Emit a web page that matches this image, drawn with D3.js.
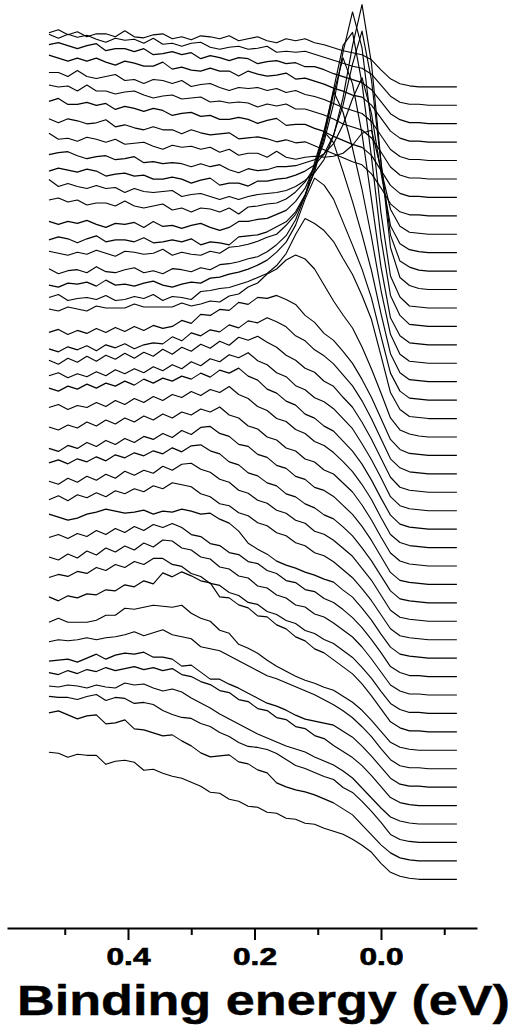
<!DOCTYPE html>
<html>
<head>
<meta charset="utf-8">
<script src="https://cdn.jsdelivr.net/npm/d3@7"></script>
<style>
  body { margin: 0; background: #fff; }
  svg { display: block; }
</style>
</head>
<body>
<svg id="chart" width="518" height="1035"></svg>
<script>
// binding energy grid (eV), shared by every spectrum
const energies = [0.525, 0.51, 0.495, 0.48, 0.465, 0.45, 0.435, 0.42, 0.405, 0.39, 0.375, 0.36, 0.345, 0.33, 0.315,
  0.3, 0.285, 0.27, 0.255, 0.24, 0.225, 0.21, 0.195, 0.18, 0.165, 0.15, 0.135, 0.12, 0.105, 0.09, 0.075, 0.06,
  0.045, 0.03, 0.015, 0, -0.015, -0.03, -0.045, -0.06, -0.075, -0.09, -0.105, -0.12]

// intensity of each EDC above its own baseline (arb. units), top curve first
const edc00 = [54,57,52,55,50,53,53,50,56,50,49,52,53,48,50,47,51,50,48,51,46,48,50,46,44,48,46,48,44,42,39,36,34,32,27,17,8,3,1,0,0,0,0,0]
const edc01 = [71,67,71,68,70,66,63,67,65,66,62,67,61,62,59,62,63,58,56,58,59,56,57,59,53,54,53,54,51,48,45,42,39,37,31,20,9,3,1,1,0,0,0,0]
const edc02 = [79,81,78,75,78,80,73,75,75,72,75,69,70,72,69,71,65,68,66,63,66,65,60,62,63,60,61,57,57,54,50,47,44,41,34,22,10,4,1,1,0,0,0,0]
const edc03 = [87,84,81,84,81,84,80,77,81,79,76,76,80,73,75,72,71,74,71,71,66,71,68,66,67,69,63,64,61,58,54,51,47,45,37,24,11,4,1,1,0,0,0,0]
const edc04 = [88,88,84,90,84,82,84,86,80,81,77,81,80,77,80,74,76,77,73,70,73,72,73,70,72,68,70,66,64,61,57,53,50,47,39,25,11,4,1,1,0,0,0,0]
const edc05 = [94,92,93,88,94,88,88,85,87,88,84,81,83,84,80,81,82,77,78,76,77,76,72,75,73,75,70,70,67,64,60,55,52,49,41,27,12,4,1,1,0,0,0,0]
const edc06 = [96,99,93,93,95,92,94,88,91,89,86,89,87,82,84,85,81,82,78,78,80,78,74,77,79,72,73,73,69,66,61,57,53,50,42,27,12,4,1,1,0,0,0,0]
const edc07 = [97,93,97,95,92,93,96,89,91,88,86,89,86,86,82,86,83,81,82,83,77,78,79,77,74,76,73,74,70,66,62,58,54,51,42,28,12,4,1,1,0,0,0,0]
const edc08 = [101,95,96,93,97,95,92,95,90,91,92,88,85,89,87,88,85,87,82,85,79,81,81,77,83,77,75,77,78,77,78,81,89,101,104,65,25,8,2,1,0,0,0,0]
const edc09 = [98,100,101,97,94,96,97,93,94,96,90,91,89,90,89,86,89,86,88,83,80,84,82,83,86,86,87,90,93,99,109,128,154,175,139,80,27,9,3,1,0,0,0,0]
const edc10 = [100,103,101,99,102,100,95,97,98,95,96,92,92,94,92,88,91,93,86,88,88,85,90,90,92,93,96,100,106,117,136,166,207,240,191,108,36,10,4,1,0,0,0,0]
const edc11 = [110,103,106,103,101,104,101,102,97,101,98,97,98,99,93,95,96,93,90,93,90,93,95,96,97,99,103,109,117,130,154,192,244,285,226,128,42,12,4,1,0,0,0,0]
const edc12 = [108,110,106,108,103,105,105,102,107,102,100,102,104,98,100,96,100,99,96,100,94,101,102,104,105,109,116,126,141,166,204,256,296,260,182,95,32,11,2,1,0,0,0,0]
const edc13 = [105,102,105,103,106,102,99,103,102,104,99,105,100,101,98,101,103,99,96,99,105,105,107,108,112,116,125,138,160,192,237,281,294,243,169,88,31,11,2,1,0,0,0,0]
const edc14 = [105,108,106,102,106,109,103,105,105,103,107,102,103,105,103,106,100,103,102,100,108,109,110,113,118,123,133,150,173,207,251,287,261,211,145,78,27,9,2,1,0,0,0,0]
const edc15 = [112,110,108,111,109,113,110,107,112,111,109,110,114,108,111,109,108,112,110,116,117,119,122,126,129,138,149,167,194,232,272,251,215,174,126,73,29,9,2,1,0,0,0,0]
const edc16 = [113,108,111,112,109,115,110,109,112,114,109,111,108,113,112,110,114,112,117,118,120,123,125,130,137,146,162,186,219,250,239,210,180,147,111,68,28,9,2,1,0,0,0,0]
const edc17 = [115,113,117,116,118,114,120,115,116,114,117,119,115,113,116,118,117,122,123,126,128,131,135,140,148,158,175,201,222,215,201,178,155,131,102,64,27,9,2,1,0,0,0,0]
const edc18 = [121,124,118,120,121,119,123,118,119,122,120,124,118,122,121,119,127,128,130,131,134,137,141,145,153,165,184,200,195,188,177,160,144,123,99,63,26,9,2,1,0,0,0,0]
const edc19 = [128,126,130,128,126,131,129,129,129,133,130,130,130,130,134,131,133,136,135,141,143,150,154,163,168,177,182,178,168,152,136,122,109,90,68,44,19,7,3,1,0,0,0,0]
const edc20 = [123,126,121,125,122,127,123,128,124,129,125,130,127,129,135,132,141,140,146,145,153,151,158,157,160,156,151,140,133,122,115,104,92,76,58,37,16,6,2,1,0,0,0,0]
const edc21 = [125,122,127,124,128,123,129,126,130,125,129,131,130,137,133,141,138,144,142,149,146,153,151,156,152,147,138,133,124,118,110,99,88,73,55,35,15,6,2,1,0,0,0,0]
const edc22 = [132,128,134,130,136,131,137,133,139,134,140,136,143,138,145,141,148,144,151,147,155,152,156,150,145,137,132,124,120,111,106,95,85,70,53,34,15,5,2,1,0,0,0,0]
const edc23 = [135,138,133,137,134,139,135,141,137,142,138,144,140,146,142,149,145,152,149,156,153,158,150,146,138,134,125,121,113,109,102,92,82,67,51,33,14,5,2,1,0,0,0,0]
const edc24 = [141,138,143,140,145,141,146,143,148,144,150,146,151,148,153,150,156,152,159,156,161,153,149,140,136,128,124,115,111,103,98,88,78,65,49,31,14,5,2,1,0,0,0,0]
const edc25 = [140,143,138,142,140,145,141,147,143,149,145,151,147,153,150,156,152,158,155,161,153,149,141,137,129,126,118,114,106,102,95,86,76,63,48,30,13,5,2,1,0,0,0,0]
const edc26 = [139,136,141,138,144,140,146,142,148,144,150,146,152,148,154,151,157,154,159,151,148,140,137,129,126,118,115,107,104,96,92,83,74,61,46,29,13,5,2,1,0,0,0,0]
const edc27 = [136,133,139,136,142,138,144,140,146,142,148,145,151,147,154,150,157,158,151,148,140,138,130,127,119,116,108,105,97,94,88,79,70,58,44,28,12,4,2,1,0,0,0,0]
const edc28 = [140,143,139,144,141,146,142,148,145,150,147,152,149,155,151,157,158,152,149,141,138,130,127,120,117,109,106,99,95,88,84,76,67,55,42,27,12,4,2,1,0,0,0,0]
const edc29 = [140,137,143,139,145,141,147,143,150,146,151,148,155,151,157,158,152,149,142,139,131,128,121,118,111,108,101,98,90,87,81,73,65,53,41,26,11,4,2,1,0,0,0,0]
const edc30 = [140,144,139,145,142,147,143,149,146,151,148,154,151,157,155,153,146,143,136,134,127,124,117,114,107,104,97,94,87,84,78,70,62,51,39,25,11,4,2,1,0,0,0,0]
const edc31 = [144,141,138,140,144,146,149,147,145,146,148,144,147,146,149,147,144,145,139,135,127,115,109,104,97,93,90,86,83,79,76,68,61,50,38,24,11,4,2,1,0,0,0,0]
const edc32 = [139,142,138,143,140,146,142,148,144,150,146,152,149,153,149,142,140,133,131,124,122,115,113,106,103,96,94,87,85,78,74,67,59,49,37,24,10,4,1,1,0,0,0,0]
const edc33 = [138,135,141,137,144,140,147,143,149,145,152,148,155,154,147,145,138,136,128,126,119,117,109,107,100,97,90,88,81,78,72,65,58,48,36,23,10,4,1,1,0,0,0,0]
const edc34 = [136,139,137,142,140,146,143,149,146,152,149,155,155,149,147,140,137,130,128,121,118,111,109,102,99,93,90,83,80,74,70,63,56,46,35,22,10,4,1,1,0,0,0,0]
const edc35 = [135,131,136,134,138,137,142,141,147,145,151,148,159,155,160,156,151,149,135,134,127,124,116,115,107,103,95,91,83,79,72,65,58,48,36,23,10,4,1,1,0,0,0,0]
const edc36 = [128,132,128,128,128,130,135,135,142,141,143,145,144,143,145,137,132,129,120,117,106,102,97,90,84,79,74,70,67,63,60,54,48,40,30,19,8,3,1,0,0,0,0,0]
const edc37 = [127,129,128,129,131,129,131,132,134,137,133,136,139,134,132,130,122,120,118,113,108,103,98,93,90,86,82,78,74,69,64,58,51,42,32,20,9,3,1,1,0,0,0,0]
const edc38 = [126,127,128,125,129,133,128,132,134,133,135,130,130,128,121,122,115,108,108,103,99,94,89,84,81,77,72,68,66,64,62,56,50,41,31,20,9,3,1,1,0,0,0,0]
const edc39 = [133,131,135,132,136,134,138,135,137,139,136,138,135,137,131,129,124,121,115,113,106,104,97,95,88,86,79,77,70,67,60,54,48,40,30,19,8,3,1,0,0,0,0,0]
const edc40 = [138,137,139,138,136,139,137,136,141,139,140,136,133,135,132,126,121,116,110,105,100,95,90,86,82,78,75,72,67,63,59,53,46,36,26,16,7,3,1,0,0,0,0,0]
const edc41 = [146,145,145,143,146,148,142,145,144,139,140,138,132,128,125,124,119,116,110,106,100,96,95,93,89,83,77,74,70,66,63,55,50,41,31,20,8,3,1,0,0,0,0,0]
const edc42 = [148,150,146,142,145,146,137,138,141,132,131,128,125,126,120,115,108,104,105,106,99,97,91,88,78,74,71,69,66,62,58,52,46,36,26,16,8,3,1,0,0,0,0,0]
const edc43 = [127,126,122,125,124,124,115,118,119,117,109,110,106,103,101,97,93,87,86,80,78,73,72,67,66,61,60,56,55,51,48,45,40,34,27,16,7,3,1,0,0,0,0,0]

const edcs = [edc00, edc01, edc02, edc03, edc04, edc05, edc06, edc07, edc08, edc09, edc10, edc11, edc12, edc13, edc14,
  edc15, edc16, edc17, edc18, edc19, edc20, edc21, edc22, edc23, edc24, edc25, edc26, edc27, edc28, edc29,
  edc30, edc31, edc32, edc33, edc34, edc35, edc36, edc37, edc38, edc39, edc40, edc41, edc42, edc43]

const offsetStep = 18.43   // vertical stacking between neighbouring spectra
const majorTicks = [0.4, 0.2, 0.0]
const minorTicks = [0.5, 0.3, 0.1, -0.1]
const axisTitle = 'Binding energy (eV)'

const font = '"Liberation Sans", Arial, Helvetica, sans-serif'
const svg = d3.select('#chart')

const x = d3.scaleLinear()
  .domain([0.5913, -0.1518])
  .range([7, 477])

const y = d3.scaleLinear()
  .domain([0, 1000])
  .range([879.3, -120.7])

const line = d3.line()
  .x((d, k) => x(energies[k]))
  .y(d => y(d))

const n = edcs.length
svg.append('g')
  .selectAll('path')
  .data(edcs)
  .join('path')
    .attr('d', (edc, i) => line(edc.map(v => v + (n - 1 - i) * offsetStep)))
    .attr('fill', 'none')
    .attr('stroke', '#000')
    .attr('stroke-width', 1.15)
    .attr('stroke-linejoin', 'round')

const axisY = 928

// minor ticks, no labels
svg.append('g')
  .attr('transform', `translate(0,${axisY})`)
  .call(d3.axisBottom(x).tickValues(minorTicks).tickSize(7).tickSizeOuter(0).tickFormat(''))
  .call(g => g.select('.domain').remove())
  .call(g => g.selectAll('line').attr('stroke', '#000').attr('stroke-width', 2))

// major ticks with labels
svg.append('g')
  .attr('transform', `translate(0,${axisY})`)
  .call(d3.axisBottom(x).tickValues(majorTicks).tickSize(12).tickSizeOuter(0).tickFormat(d3.format('.1f')))
  .call(g => g.select('.domain').attr('stroke', '#000').attr('stroke-width', 2))
  .call(g => g.selectAll('line').attr('stroke', '#000').attr('stroke-width', 2))
  .call(g => g.selectAll('text')
    .attr('y', 21)
    .attr('fill', '#000')
    .attr('stroke', '#000')
    .attr('stroke-width', 0.6)
    .attr('font-family', font)
    .attr('font-weight', 'bold')
    .attr('font-size', 23)
    .attr('textLength', 44)
    .attr('lengthAdjust', 'spacingAndGlyphs'))

svg.append('text')
  .attr('x', 263.5)
  .attr('y', 1015)
  .attr('text-anchor', 'middle')
  .attr('font-family', font)
  .attr('font-weight', 'bold')
  .attr('font-size', 42)
  .attr('stroke', '#000')
  .attr('stroke-width', 0.4)
  .attr('textLength', 493)
  .attr('lengthAdjust', 'spacingAndGlyphs')
  .text(axisTitle)
</script>
</body>
</html>
